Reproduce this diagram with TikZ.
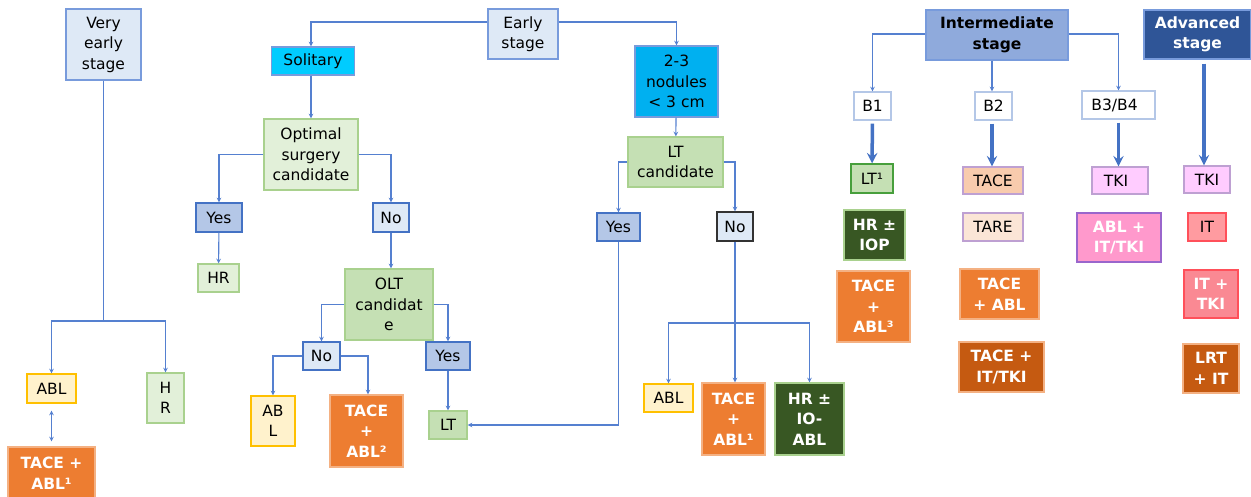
\documentclass[tikz,border=0pt]{standalone}
\usepackage{fontspec}
\setmainfont{DejaVu Sans}
\definecolor{lineblue}{RGB}{85,128,208}
\definecolor{fatblue}{RGB}{68,114,196}
\definecolor{frameblue}{RGB}{120,155,220}
\definecolor{paleblue}{RGB}{222,233,246}
\definecolor{midblue}{RGB}{180,199,231}
\definecolor{darkframe}{RGB}{68,114,196}
\definecolor{cyanA}{RGB}{0,204,255}
\definecolor{cyanB}{RGB}{0,176,240}
\definecolor{palegreen}{RGB}{226,240,217}
\definecolor{midgreen}{RGB}{197,224,180}
\definecolor{greenframe}{RGB}{169,209,142}
\definecolor{darkgreen}{RGB}{56,87,35}
\definecolor{paleyellow}{RGB}{255,242,204}
\definecolor{gold}{RGB}{255,192,0}
\definecolor{orangeA}{RGB}{237,125,49}
\definecolor{orangeframe}{RGB}{244,177,131}
\definecolor{rust}{RGB}{197,90,17}
\definecolor{interblue}{RGB}{143,170,220}
\definecolor{advblue}{RGB}{47,85,151}
\definecolor{peach}{RGB}{248,203,173}
\definecolor{palepeach}{RGB}{251,229,214}
\definecolor{lilacframe}{RGB}{190,160,210}
\definecolor{palepink}{RGB}{255,204,255}
\definecolor{pinkA}{RGB}{255,153,204}
\definecolor{purpleframe}{RGB}{153,102,204}
\definecolor{salmon}{RGB}{255,155,160}
\definecolor{salmonB}{RGB}{250,137,147}
\definecolor{redframe}{RGB}{255,80,90}
\begin{document}
\begin{tikzpicture}[x=1pt,y=-1pt,>=stealth,
    box/.style={draw=#1,line width=1.2pt,inner sep=0pt,align=center,text=black,
      font=\fontsize{15.5}{20.5}\selectfont},
    bbox/.style={box=#1,text=white,font=\fontsize{15.5}{20.5}\selectfont\bfseries},
    wh/.style 2 args={minimum width=#1,minimum height=#2},
    link/.style={draw=lineblue,line width=1.1pt},
    fat/.style={draw=fatblue,line width=3.5pt,->}]
  \useasboundingbox (0,0) rectangle (1251,497);

  % very early stage
  \node[box=frameblue,fill=paleblue,wh={75}{71}] (very) at (103.5,44.5) {Very\\early\\stage};
  \node[box=gold,fill=paleyellow,wh={49}{29}] (ablA) at (51.5,388.5) {ABL};
  \node[box=greenframe,fill=palegreen,wh={37}{50}] (hrB) at (165.5,398) {H\\R};
  \node[bbox=orangeframe,fill=orangeA,wh={87}{52}] (taceA) at (51.5,473) {TACE +\\ABL¹};
  \coordinate (vsplit) at (103.5,321);

  % early stage, solitary
  \node[box=frameblue,fill=paleblue,wh={70}{50}] (early) at (523,34) {Early\\stage};
  \node[box=frameblue,fill=cyanA,wh={83}{28}] (solitary) at (313,61) {Solitary};
  \node[box=greenframe,fill=palegreen,wh={94}{71}] (optimal) at (311,154.5) {Optimal\\surgery\\candidate};
  \node[box=darkframe,fill=midblue,wh={46}{29}] (yesA) at (219,217.5) {Yes};
  \node[box=darkframe,fill=paleblue,wh={36}{29}] (noA) at (391,217.5) {No};
  \node[box=greenframe,fill=palegreen,wh={41}{28}] (hrA) at (218.5,278) {HR};
  \node[box=greenframe,fill=midgreen,wh={88}{71}] (olt) at (389,304.5) {OLT\\candidat\\e};
  \node[box=darkframe,fill=paleblue,wh={37}{28}] (noB) at (321.5,356) {No};
  \node[box=darkframe,fill=midblue,wh={44}{28}] (yesB) at (448,356) {Yes};
  \node[box=gold,fill=paleyellow,wh={44}{50}] (ablB) at (273,421) {AB\\L};
  \node[bbox=orangeframe,fill=orangeA,wh={73}{72}] (taceB) at (366.5,431) {TACE\\+\\ABL²};
  \node[box=greenframe,fill=midgreen,wh={38}{28}] (ltB) at (448,425) {LT};

  % early stage, 2-3 nodules
  \node[box=frameblue,fill=cyanB,wh={83}{71}] (nodules) at (676.5,81.5) {2-3\\nodules\\< 3 cm};
  \node[box=greenframe,fill=midgreen,wh={95}{50}] (ltcand) at (675.5,162) {LT\\candidate};
  \node[box=darkframe,fill=midblue,wh={43}{28}] (yesC) at (618.5,227) {Yes};
  \node[box=black!80,fill=paleblue,wh={36}{29}] (noC) at (735,226.5) {No};
  \node[box=gold,fill=paleyellow,wh={49}{28}] (ablC) at (668.5,398) {ABL};
  \node[bbox=orangeframe,fill=orangeA,wh={63}{72}] (taceC) at (733.5,419) {TACE\\+\\ABL¹};
  \node[bbox=greenframe,fill=darkgreen,wh={69}{72}] (hrC) at (809.5,419) {HR ±\\IO-\\ABL};
  \coordinate (nsplit) at (735,323);

  % intermediate stage
  \node[box=frameblue,fill=interblue,wh={142}{50},font=\fontsize{15.5}{20.5}\selectfont\bfseries] (inter) at (997,35) {Intermediate\\stage};
  \node[box=midblue,fill=white,wh={37}{28}] (b1) at (872.5,106) {B1};
  \node[box=midblue,fill=white,wh={37}{28}] (b2) at (993.5,106) {B2};
  \node[box=midblue,fill=white,wh={73}{28}] (b34) at (1118.5,105) {B3/B4\hspace{8pt}};
  \node[box=greenframe!60!green!70!black,fill=midgreen,wh={42}{29}] (lt1) at (872,178.5) {LT¹};
  \node[bbox=greenframe,fill=darkgreen,wh={61}{50}] (hrD) at (874.5,235) {HR ±\\IOP};
  \node[bbox=orangeframe,fill=orangeA,wh={73}{71}] (taceE) at (873.5,306.5) {TACE\\+\\ABL³};
  \node[box=lilacframe,fill=peach,wh={60}{27}] (taceD) at (993,180.5) {TACE};
  \node[box=lilacframe,fill=palepeach,wh={60}{28}] (tare) at (993,227) {TARE};
  \node[bbox=orangeframe,fill=orangeA,wh={79}{50}] (taceF) at (999.5,294) {TACE\\+ ABL};
  \node[bbox=orangeframe,fill=rust,wh={85}{50}] (taceG) at (1001.5,367) {TACE +\\IT/TKI};
  \node[box=lilacframe,fill=palepink,wh={56}{27}] (tkiA) at (1120,180.5) {TKI\hspace{8pt}};
  \node[bbox=purpleframe,fill=pinkA,wh={84}{49}] (ablD) at (1119,237.5) {ABL +\\IT/TKI};

  % advanced stage
  \node[bbox=frameblue,fill=advblue,wh={107}{49}] (adv) at (1197.5,34.5) {Advanced\\stage};
  \node[box=lilacframe,fill=palepink,wh={46}{27}] (tkiB) at (1207,179.5) {TKI};
  \node[box=redframe,fill=salmon,wh={38}{28}] (itA) at (1207,227) {IT};
  \node[bbox=redframe,fill=salmonB,wh={54}{48}] (itB) at (1211,294) {IT +\\TKI};
  \node[bbox=orangeframe,fill=rust,wh={56}{49}] (lrt) at (1211,368.5) {LRT\\+ IT};

  % connectors
  \draw[link] (very) -- (vsplit);
  \draw[link,->] (vsplit) -| (ablA);
  \draw[link,->] (vsplit) -| (hrB);
  \draw[link,<->,shorten <=7pt,shorten >=5pt] (ablA) -- (taceA);

  \draw[link,->] ([yshift=12pt]early.west) -| (solitary.north -| 311,0);
  \draw[link,->] ([yshift=12pt]early.east) -| (nodules);
  \draw[link,->] (solitary.south -| 311,0) -- (optimal.north -| 311,0);
  \draw[link,->] (optimal) -| (yesA);
  \draw[link,->] (optimal) -| (noA);
  \draw[link,->] (yesA) -- (hrA);
  \draw[link,->] (noA) -- (noA |- olt.north);
  \draw[link,->] (olt) -| (noB);
  \draw[link,->] (olt) -| (yesB);
  \draw[link,->] (noB) -| (ablB);
  \draw[link,->] (noB) -| (taceB.north -| 368,0);
  \draw[link,->] (yesB) -- (ltB);

  \draw[link,->] (nodules) -- (ltcand);
  \draw[link,->] (ltcand) -| (yesC);
  \draw[link,->] (ltcand) -| (noC);
  \draw[link,->] (yesC) |- (ltB);
  \draw[link,->] (noC) -- (noC |- taceC.north);
  \draw[link,->] (nsplit) -| (ablC);
  \draw[link,->] (nsplit) -| (hrC);

  \draw[link,->] ([yshift=1pt]inter.west) -| (b1);
  \draw[link,->] (inter.south -| 992,0) -- (b2.north -| 992,0);
  \draw[link,->] ([yshift=1pt]inter.east) -| (b34);
  \draw[fat,shorten <=3pt] (b1) -- (lt1);
  \draw[fat,shorten <=3pt] (b2.south -| 992,0) -- (taceD.north -| 992,0);
  \draw[fat,shorten <=3pt] (b34) -- (tkiA.north -| b34);
  \draw[fat,shorten <=4pt] (adv.south -| 1204,0) -- (tkiB.north -| 1204,0);
\end{tikzpicture}
\end{document}
